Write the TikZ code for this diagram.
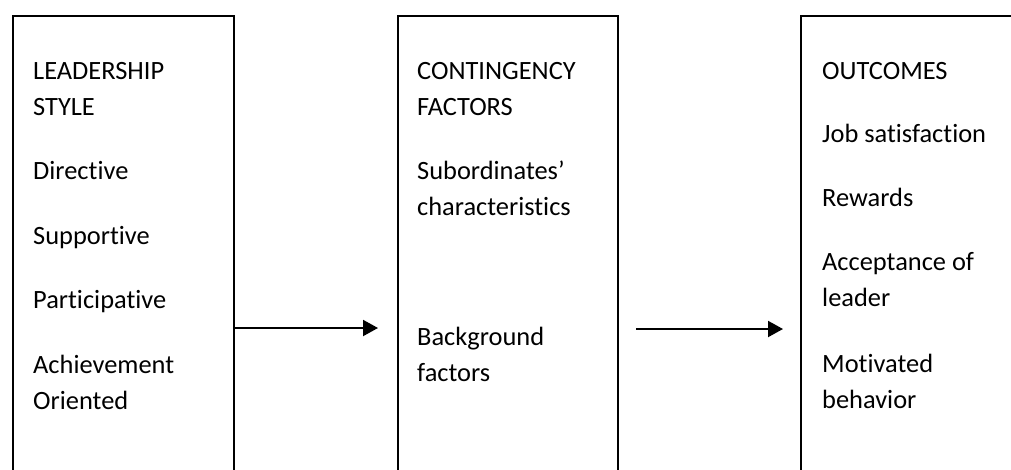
\documentclass[tikz,border=0pt]{standalone}
\usepackage{fontspec}
\setmainfont{Carlito}[Ligatures={NoCommon,NoRequired,NoContextual}]
\usetikzlibrary{arrows.meta}
\begin{document}
\begin{tikzpicture}[x=1pt,y=-1pt,
  frame/.style={draw=black,line width=2pt,fill=none},
  label/.style={anchor=base west,inner sep=0pt,font=\fontsize{26.4}{30}\selectfont},
  flow/.style={line width=2pt,-{Triangle[length=15pt,width=16pt]}}]
\useasboundingbox (0,0) rectangle (1011,469);
\clip (0,0) rectangle (1011,469);
% the three columns, open past the lower edge
\node[frame,minimum width=221pt,minimum height=480pt,anchor=north west] (lead) at (12,15) {};
\node[frame,minimum width=220pt,minimum height=480pt,anchor=north west] (cont) at (397,15) {};
\node[frame,minimum width=240pt,minimum height=480pt,anchor=north west] (outc) at (800,15) {};
% leadership style
\node[label] (l1) at (33,79) {LEADERSHIP};
\node[label] (l2) at (33,115) {STYLE};
\node[label] (l3) at (33,179.5) {Directive};
\node[label] (l4) at (33,244) {Supportive};
\node[label] (l5) at (33,308.5) {Participative};
\node[label] (l6) at (33,373) {Achievement};
\node[label] (l7) at (33,409) {Oriented};
% contingency factors
\node[label] (c1) at (417,79) {CONTINGENCY};
\node[label] (c2) at (417,115) {FACTORS};
\node[label] (c3) at (417,179) {Subordinates’};
\node[label] (c4) at (417,215) {characteristics};
\node[label] (c5) at (417,345) {Background};
\node[label] (c6) at (417,381) {factors};
% outcomes
\node[label] (o1) at (822,79) {OUTCOMES};
\node[label] (o2) at (822,142) {Job satisfaction};
\node[label] (o3) at (822,206) {Rewards};
\node[label] (o4) at (822,270) {Acceptance of};
\node[label] (o5) at (822,306) {leader};
\node[label] (o6) at (822,372) {Motivated};
\node[label] (o7) at (822,408) {behavior};
% arrows between the columns
\coordinate (a1end) at (378,328);
\coordinate (a2start) at (636,329);
\coordinate (a2end) at (783,329);
\draw[flow] (lead.east |- a1end) -- (a1end);
\draw[flow] (a2start) -- (a2end);
\end{tikzpicture}
\end{document}
